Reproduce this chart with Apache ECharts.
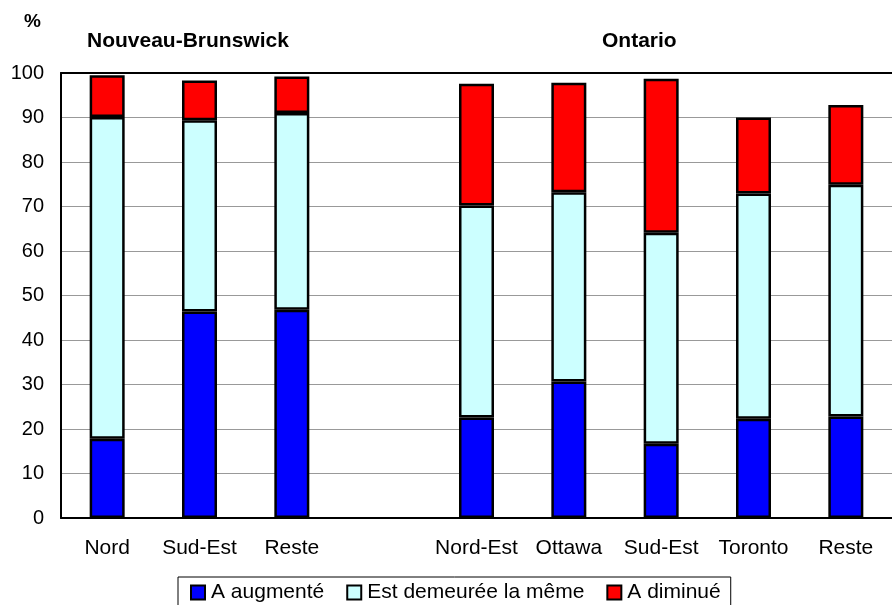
<!DOCTYPE html>
<html>
<head>
<meta charset="utf-8">
<script src="https://cdn.jsdelivr.net/npm/echarts@6/dist/echarts.min.js"></script>
<style>html,body{margin:0;padding:0;background:#fff}#c{width:892px;height:605px}</style>
</head>
<body>
<div id="c"></div>
<script>
const categories = ['Nord', 'Sud-Est', 'Reste', '', 'Nord-Est', 'Ottawa', 'Sud-Est', 'Toronto', 'Reste'];
const seriesNames = ['A augmenté', 'Est demeurée la même', 'A diminué'];
const augmente = [17.8, 46.4, 46.8, null, 22.6, 30.7, 16.7, 22.3, 22.8];
const meme = [72.3, 43.0, 44.2, null, 47.6, 42.5, 47.4, 50.6, 52.1];
const diminue = [9.4, 8.9, 8.2, null, 27.4, 24.6, 34.6, 17.1, 17.9];
const yTicks = [0, 10, 20, 30, 40, 50, 60, 70, 80, 90, 100];
const groupTitles = ['Nouveau-Brunswick', 'Ontario'];

const colors = ['#0000FF', '#CCFFFF', '#FF0000'];
const font = 'Liberation Sans, Arial, sans-serif';
const chart = echarts.init(document.getElementById('c'), null, {renderer: 'canvas'});
const mk = (name, data, i) => ({
  name, type: 'bar', stack: 's', data, barWidth: 35,
  itemStyle: {color: colors[i], borderColor: '#000', borderWidth: 2.5},
  emphasis: {disabled: true}
});
chart.setOption({
  animation: false,
  grid: {left: 61, top: 73, width: 837, height: 445},
  graphic: [
    {type: 'text', left: 24, top: 12, style: {text: '%', font: 'bold 19px ' + font, fill: '#000'}},
    {type: 'text', left: 87, top: 31, style: {text: groupTitles[0], font: 'bold 21px ' + font, fill: '#000'}},
    {type: 'text', left: 602, top: 31, style: {text: groupTitles[1], font: 'bold 21px ' + font, fill: '#000'}}
  ],
  legend: {
    top: 577, left: 178,
    data: seriesNames,
    icon: 'rect', itemWidth: 14, itemHeight: 14, itemGap: 22,
    borderColor: '#000', borderWidth: 1, padding: [5, 10, 12, 12],
    itemStyle: {borderColor: '#000', borderWidth: 2},
    textStyle: {fontSize: 21, fontFamily: font, color: '#000', padding: [0, 0, 0, 1]},
    selectedMode: false
  },
  xAxis: [{
    type: 'category', data: categories,
    axisLine: {lineStyle: {color: '#000', width: 2}},
    axisTick: {show: false},
    axisLabel: {fontSize: 21, fontFamily: font, color: '#000', margin: 20, interval: 0}
  }, {
    type: 'category', data: categories, position: 'top',
    axisLine: {lineStyle: {color: '#000', width: 2}},
    axisTick: {show: false}, axisLabel: {show: false}
  }],
  yAxis: {
    type: 'value', min: 0, max: 100, interval: 10,
    axisLine: {show: true, lineStyle: {color: '#000', width: 2}},
    axisTick: {show: false},
    splitLine: {lineStyle: {color: '#999', width: 1}},
    axisLabel: {fontSize: 20, fontFamily: font, color: '#000', margin: 17,
      formatter: v => yTicks.includes(v) ? String(v) : ''}
  },
  series: [mk(seriesNames[0], augmente, 0), mk(seriesNames[1], meme, 1), mk(seriesNames[2], diminue, 2)]
});
</script>
</body>
</html>
